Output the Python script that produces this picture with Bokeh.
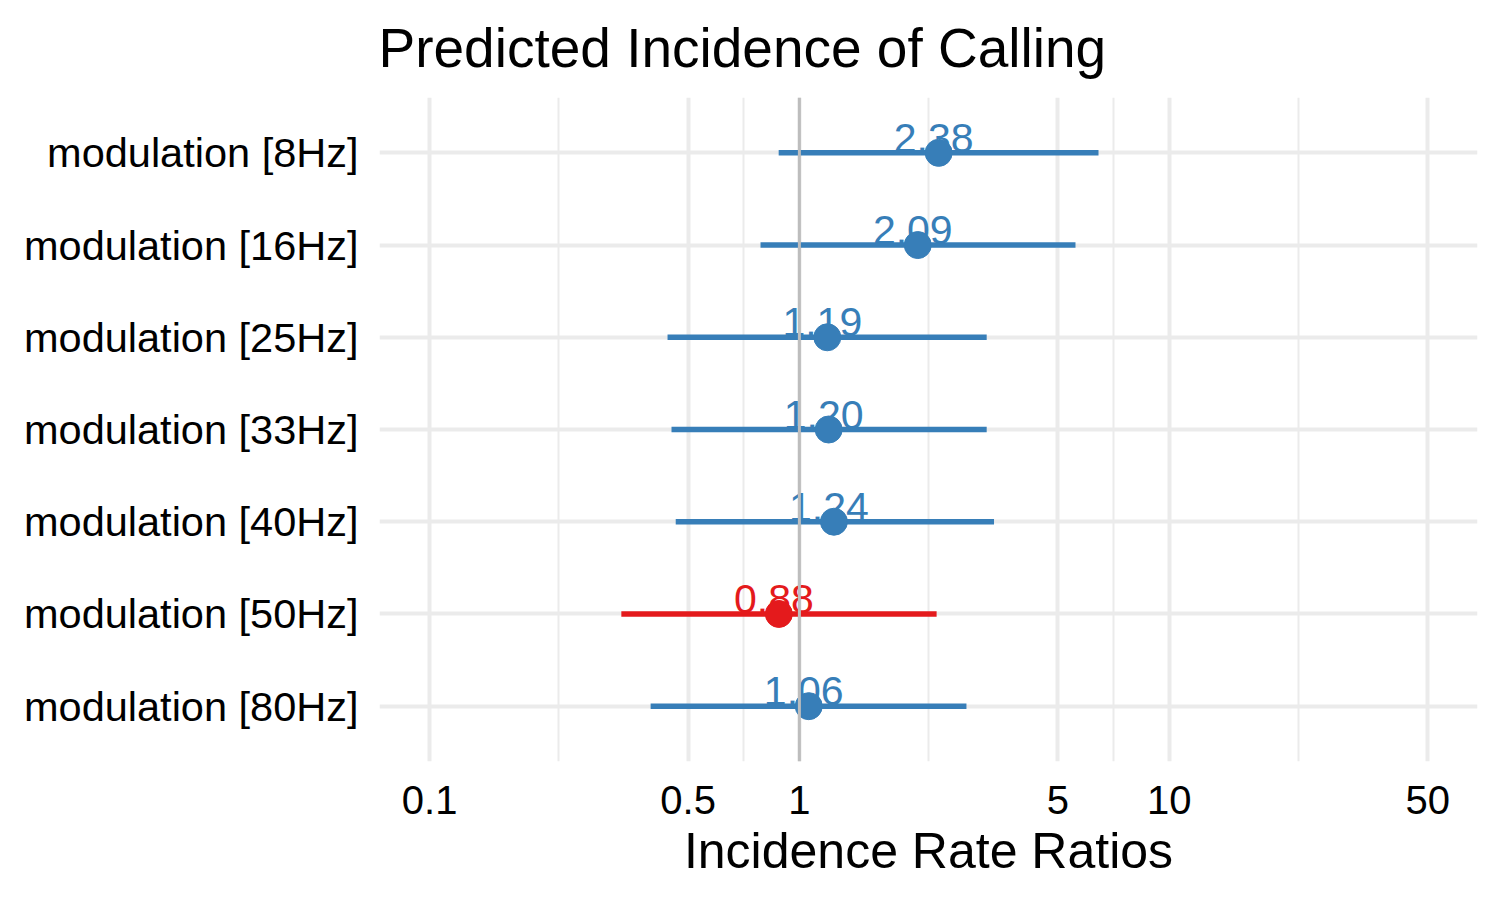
from bokeh.plotting import figure
from bokeh.models import Range1d, FixedTicker, ColumnDataSource, Span
from bokeh.embed import file_html
from bokeh.resources import INLINE
from bokeh.core.properties import value

terms = ["modulation [8Hz]", "modulation [16Hz]", "modulation [25Hz]",
         "modulation [33Hz]", "modulation [40Hz]", "modulation [50Hz]",
         "modulation [80Hz]"]
estimates = [2.38, 2.09, 1.19, 1.20, 1.24, 0.88, 1.06]
conf_low = [0.879, 0.785, 0.440, 0.451, 0.463, 0.330, 0.396]
conf_high = [6.44, 5.58, 3.21, 3.21, 3.36, 2.35, 2.83]
value_labels = ["2.38", "2.09", "1.19", "1.20", "1.24", "0.88", "1.06"]

x_ticks = [0.1, 0.5, 1, 5, 10, 50]
x_tick_labels = ["0.1", "0.5", "1", "5", "10", "50"]
x_minor = [0.2236, 0.7071, 2.236, 7.071, 22.36]

TITLE = "Predicted Incidence of Calling"
BLUE = "#377EB8"
RED = "#E41A1C"
FONT = "Liberation Sans"

positions = list(range(len(terms)))
colors = [BLUE if e > 1 else RED for e in estimates]

src = ColumnDataSource(dict(y=positions, est=estimates, lo=conf_low, hi=conf_high,
                            label=value_labels, color=colors))

p = figure(width=1494, height=892, x_axis_type="log",
           x_range=Range1d(0.0732, 68.2), y_range=Range1d(len(terms) - 1 + 0.6, -0.6),
           output_backend="svg", toolbar_location=None,
           min_border_left=379, min_border_right=17, min_border_top=97, min_border_bottom=131,
           title=TITLE)
p.outline_line_color = None
p.background_fill_color = "white"

# title
p.title.text_font = FONT
p.title.text_font_size = "55px"
p.title.text_font_style = "normal"
p.title.text_color = "black"
p.title.align = "left"
p.title.vertical_align = "top"
p.title.offset = -1
p.title.standoff = 33

# x axis
xt = FixedTicker(ticks=x_ticks, minor_ticks=x_minor)
p.xaxis.ticker = xt
p.xgrid.ticker = xt
p.xaxis.major_label_overrides = dict(zip(x_ticks, x_tick_labels))
p.xaxis.axis_line_color = None
p.xaxis.major_tick_line_color = None
p.xaxis.minor_tick_line_color = None
p.xaxis.major_label_text_font = FONT
p.xaxis.major_label_text_font_size = "40px"
p.xaxis.major_label_text_color = "black"
p.xaxis.major_label_standoff = 18
p.xaxis.axis_label = "Incidence Rate Ratios"
p.xaxis.axis_label_text_font = FONT
p.xaxis.axis_label_text_font_size = "50px"
p.xaxis.axis_label_text_font_style = "normal"
p.xaxis.axis_label_text_color = "black"
p.xaxis.axis_label_standoff = 6

# y axis
yt = FixedTicker(ticks=positions)
p.yaxis.ticker = yt
p.ygrid.ticker = yt
p.yaxis.major_label_overrides = dict(zip(positions, terms))
p.yaxis.axis_line_color = None
p.yaxis.major_tick_line_color = None
p.yaxis.minor_tick_line_color = None
p.yaxis.major_label_text_font = FONT
p.yaxis.major_label_text_font_size = "41.5px"
p.yaxis.major_label_text_color = "black"
p.yaxis.major_label_standoff = 15

# grids
p.xgrid.grid_line_color = "#EBEBEB"
p.xgrid.grid_line_width = 4
p.xgrid.minor_grid_line_color = "#EBEBEB"
p.xgrid.minor_grid_line_width = 2
p.ygrid.grid_line_color = "#EBEBEB"
p.ygrid.grid_line_width = 4

p.add_layout(Span(location=1, dimension="height", line_color="#BDBDBD", line_width=3))

p.text(x="est", y="y", text="label", text_color="color", source=src,
       text_font=value(FONT), text_font_size="41px", text_align="center",
       text_baseline="alphabetic", x_offset=-5, y_offset=-15)
p.segment(x0="lo", y0="y", x1="hi", y1="y", line_color="color", line_width=5.5,
          line_cap="butt", source=src)
p.scatter(x="est", y="y", size=27, fill_color="color", line_color="color", source=src)

open("out.html", "w").write(file_html(p, INLINE))
